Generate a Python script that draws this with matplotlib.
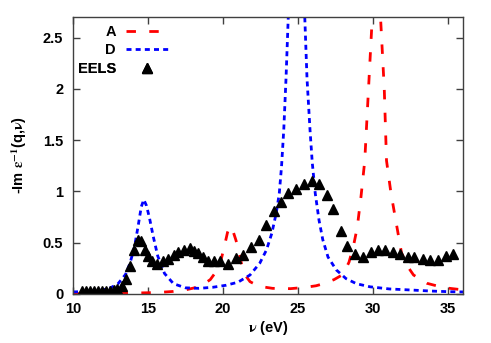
import matplotlib
matplotlib.use("Agg")
import matplotlib.pyplot as plt

plt.rcParams['font.family'] = ['Liberation Sans', 'DejaVu Sans']
plt.rcParams['font.weight'] = 'bold'
plt.rcParams['mathtext.fontset'] = 'stix'

# EELS measurement (triangles)
eels_x = [10.6, 10.87, 11.13, 11.4, 11.67, 11.93, 12.2, 12.47, 12.73, 12.95,
          13.24, 13.53, 13.8, 14.07, 14.36, 14.53, 14.8, 15.0, 15.24, 15.58,
          15.98, 16.36, 16.7, 17.0, 17.4, 17.8, 18.07, 18.3, 18.65, 19.0,
          19.4, 19.8, 20.35, 20.85, 21.3, 21.85, 22.4, 22.85, 23.4, 23.87,
          24.35, 24.87, 25.4, 25.93, 26.4, 26.93, 27.36, 27.84, 28.29, 28.82,
          29.35, 29.85, 30.35, 30.8, 31.3, 31.8, 32.3, 32.75, 33.3, 33.8,
          34.3, 34.85, 35.3]
eels_y = [0.03, 0.03, 0.03, 0.03, 0.03, 0.03, 0.03, 0.03, 0.035, 0.045,
          0.08, 0.15, 0.27, 0.43, 0.53, 0.52, 0.43, 0.37, 0.32, 0.29,
          0.32, 0.34, 0.38, 0.41, 0.43, 0.45, 0.42, 0.40, 0.36, 0.325,
          0.325, 0.325, 0.29, 0.35, 0.38, 0.455, 0.53, 0.67, 0.81, 0.90,
          0.98, 1.025, 1.074, 1.106, 1.074, 0.967, 0.827, 0.61, 0.47, 0.39,
          0.36, 0.41, 0.43, 0.43, 0.41, 0.39, 0.36, 0.36, 0.34, 0.33,
          0.33, 0.37, 0.39]

# model A (red dashed)
a_x = [10.0, 12.0, 13.5, 15.0, 16.0, 16.7, 17.5, 18.1, 18.7, 19.15,
       19.6, 19.9, 20.1, 20.3, 20.47, 20.65, 20.85, 21.05, 21.25, 21.5,
       21.8, 22.4, 23.3, 24.5, 25.5, 26.2, 26.7, 27.4, 28.0, 28.4,
       28.7, 28.95, 29.2, 29.45, 29.7, 29.95, 30.2, 30.5, 30.75, 30.9,
       31.2, 31.55, 31.9, 32.3, 32.7, 33.6, 34.7, 36.0]
a_y = [0.003, 0.005, 0.008, 0.012, 0.018, 0.025, 0.04, 0.06, 0.095, 0.14,
       0.23, 0.35, 0.47, 0.6, 0.66, 0.62, 0.53, 0.43, 0.28, 0.18,
       0.12, 0.075, 0.055, 0.052, 0.065, 0.08, 0.1, 0.14, 0.19, 0.31,
       0.47, 0.65, 0.95, 1.3, 2.0, 2.7, 3.2, 2.7, 2.0, 1.3,
       0.98, 0.69, 0.4, 0.27, 0.185, 0.104, 0.062, 0.04]

# model D (blue dotted)
d_x = [10.0, 11.0, 12.0, 12.5, 13.0, 13.5, 13.8, 14.1, 14.35, 14.55,
       14.72, 14.9, 15.1, 15.35, 15.65, 16.1, 16.7, 17.5, 18.4, 19.3,
       20.2, 21.0, 21.8, 22.45, 22.9, 23.25, 23.55, 23.75, 23.9, 24.05,
       24.2, 24.35, 24.5, 24.9, 25.3, 25.45, 25.6, 25.8, 25.95, 26.15,
       26.4, 26.65, 27.0, 27.55, 28.2, 28.9, 29.8, 31.1, 32.5, 33.8,
       35.1, 36.0]
d_y = [0.02, 0.025, 0.04, 0.06, 0.1, 0.19, 0.3, 0.46, 0.67, 0.85,
       0.92, 0.86, 0.74, 0.56, 0.37, 0.2, 0.1, 0.06, 0.055, 0.065,
       0.085, 0.115, 0.185, 0.3, 0.43, 0.59, 0.79, 0.98, 1.24, 1.6,
       2.1, 2.7, 3.3, 3.8, 3.3, 2.7, 2.1, 1.6, 1.28, 0.98,
       0.72, 0.53, 0.36, 0.235, 0.15, 0.1, 0.07, 0.049, 0.039, 0.029,
       0.022, 0.02]

xticks = [10, 15, 20, 25, 30, 35]
yticks = [0, 0.5, 1, 1.5, 2, 2.5]
ytick_labels = ['0', '0.5', '1', '1.5', '2', '2.5']

fig = plt.figure(figsize=(4.91, 3.43), dpi=100)
ax = fig.add_axes([0.1487, 0.1429, 0.7943, 0.8075])

la, = ax.plot(a_x, a_y, color='#ff0000', lw=2.0, dashes=(3.4, 4.8), label='A')
ld, = ax.plot(d_x, d_y, color='#0000ff', lw=2.0, dashes=(1.8, 1.5), label='D')
le, = ax.plot(eels_x, eels_y, ls='none', marker='^', ms=6.5, color='black',
              label='EELS')

ax.set_xlim(10, 36)
ax.set_ylim(0, 2.7)
ax.set_xticks(xticks)
ax.set_yticks(yticks)
ax.set_yticklabels(ytick_labels)
ax.tick_params(direction='in', length=5, width=1, top=True, right=True,
               labelsize=10.5, color='#404040')
ax.tick_params(axis='y', pad=7)
ax.tick_params(axis='x', pad=6)
for t in ax.get_xticklabels() + ax.get_yticklabels():
    t.set_fontweight('bold')
for s in ax.spines.values():
    s.set_color('#404040')
    s.set_linewidth(1.0)

ax.set_xlabel(r'$\mathrm{\nu}$ (eV)', fontsize=10.5, fontweight='bold',
              labelpad=2)
ax.set_ylabel(r'-Im $\mathrm{\varepsilon}^{\mathbf{-1}}$(q,$\mathrm{\nu}$)',
              fontsize=10.5, fontweight='bold', labelpad=10)

# gnuplot-style key: right-aligned text, sample on the right
rows = [(la, 'A', 0.946), (ld, 'D', 0.880), (le, 'EELS', 0.812)]
for h, lab, yy in rows:
    lg = ax.legend([h], [lab], loc='center right', bbox_to_anchor=(0.245, yy),
                   frameon=False, markerfirst=False, handlelength=2.9,
                   numpoints=1, handletextpad=0.7,
                   borderpad=0, borderaxespad=0,
                   prop={'weight': 'bold', 'size': 10.5})
    ax.add_artist(lg)

fig.savefig('out.png', dpi=100)
